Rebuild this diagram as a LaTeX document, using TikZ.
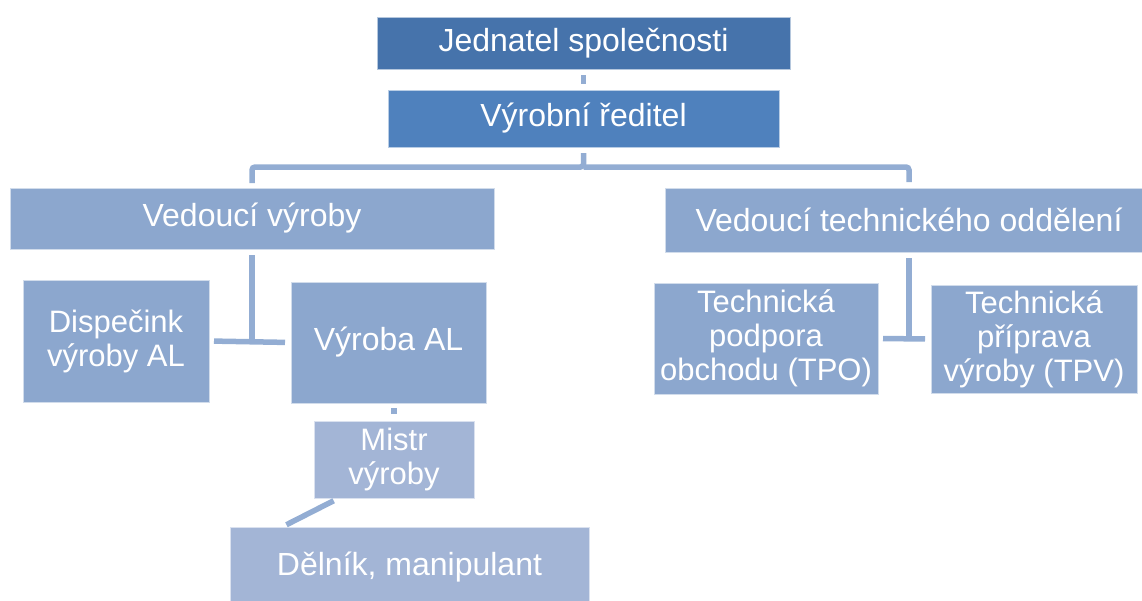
\documentclass[tikz,border=0pt]{standalone}
\usepackage{fontspec}
\setmainfont{Liberation Sans}
\usetikzlibrary{positioning}
\definecolor{topblue}{HTML}{4673AB}
\definecolor{midblue}{HTML}{4F81BD}
\definecolor{lvltwo}{HTML}{8CA7CE}
\definecolor{lvlthree}{HTML}{A3B5D6}
\definecolor{linkblue}{HTML}{93ADD3}
\tikzstyle{box} = [rectangle, inner sep=0pt, outer sep=0pt, align=center, text=white, draw=white!60!lvltwo, line width=0.8pt, font=\fontsize{32}{34}\selectfont]
\tikzstyle{multi} = [font=\fontsize{31}{34}\selectfont]
\tikzstyle{head} = [box, fill = topblue, draw=white!60!topblue]
\tikzstyle{boss} = [box, fill = midblue, draw=white!60!midblue]
\tikzstyle{lead} = [box, fill = lvltwo]
\tikzstyle{worker} = [box, fill = lvlthree, draw=white!60!lvlthree]
\tikzstyle{link} = [draw=linkblue, line width=5.5pt]

\begin{document}
\begin{tikzpicture}[x=1pt, y=-1pt]
		\useasboundingbox (0,0) rectangle (1142,600);
		\begin{scope}
		\clip (0,0) rectangle (1142,600);
		\node (head) [head, minimum width=413pt, minimum height=52pt] at (583.5,43) {Jednatel společnosti};
		\node (boss) [boss, minimum width=391pt, minimum height=57pt] at (583.5,118.5) {Výrobní ředitel};
		\node (leadprod) [lead, minimum width=484pt, minimum height=61pt] at (252,218.5) {Vedoucí výroby};
		\node (leadtech) [lead, minimum width=488pt, minimum height=64pt] at (909,220) {Vedoucí technického oddělení};
		\node (disp) [lead, multi, minimum width=186pt, minimum height=122pt] at (116,341) {Dispečink\\výroby AL};
		\node (prod) [lead, minimum width=195pt, minimum height=121pt] at (388.5,342.5) {Výroba AL};
		\node (master) [worker, multi, minimum width=160pt, minimum height=77pt] at (394,459.5) {Mistr\\výroby};
		\node (worker) [worker, minimum width=359pt, minimum height=80pt] at (409.5,567) {Dělník, manipulant};
		\node (tpo) [lead, multi, minimum width=224pt, minimum height=111pt] at (766,338.5) {Technická\\podpora\\obchodu (TPO)};
		\node (tpv) [lead, multi, minimum width=206pt, minimum height=108pt] at (1034,339) {Technická\\příprava\\výroby (TPV)};
		\end{scope}

		\draw [link, shorten <=6pt, shorten >=6pt](head) -- (boss);
		\draw [link, rounded corners=3pt, shorten <=6pt, shorten >=5pt](boss.south) -- ++(0,20) -| (leadprod.north);
		\draw [link, rounded corners=3pt, shorten >=6pt]([yshift=-20pt]boss.south) -| (leadtech.north);
		\draw [link, shorten <=6pt](leadprod.south) -- (leadprod.south |- disp.east);
		\draw [link, shorten <=5pt, shorten >=6pt](disp.east) -- (prod.west);
		\draw [link, shorten <=7pt, shorten >=5pt](master.north) -- (master.north |- prod.south);
		\draw [link, shorten <=6pt, shorten >=5pt]([xshift=25pt]master.south west) -- ([xshift=52pt]worker.north west);
		\draw [link, shorten <=6pt](leadtech.south) -- (leadtech.south |- tpo.east);
		\draw [link, shorten <=5pt, shorten >=6pt](tpo.east) -- (tpv.west);
	\end{tikzpicture}
\end{document}
